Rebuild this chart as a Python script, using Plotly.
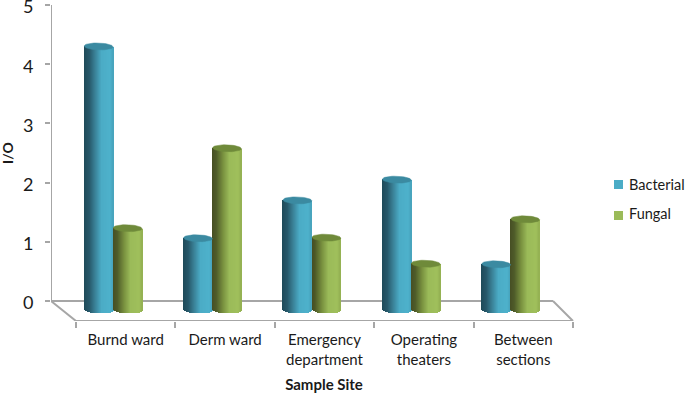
import numpy as np
import plotly.graph_objects as go

categories = ["Burnd ward", "Derm ward", "Emergency<br>department", "Operating<br>theaters", "Between<br>sections"]
bacterial = [4.30, 1.06, 1.70, 2.05, 0.62]
fungal = [1.23, 2.58, 1.07, 0.63, 1.38]
series_names = ["Bacterial", "Fungal"]
y_ticks = [0, 1, 2, 3, 4, 5]

GRAY = "#a6a6a6"
TEXT = "#1a1a1a"
FONT = "Lato, Open Sans, sans-serif"
N = 29
BAR_W = 0.29
ELL_TOP = 0.058
ELL_BOT = 0.06
TILT = 0.016
BASE = -0.15

ramps = {
    "Bacterial": dict(stops=[(0, "#1f4a59"), (.18, "#27586a"), (.38, "#3a8197"), (.6, "#4bacc6"), (.9, "#4eb2cc"), (1, "#47a3bc")],
                      cap="#3b8aa1", off=-0.272, swatch="#4bacc6"),
    "Fungal": dict(stops=[(0, "#474f24"), (.15, "#4f5c2a"), (.38, "#79913f"), (.6, "#9bbb59"), (.9, "#a0c05c"), (1, "#93b052")],
                   cap="#6f8a3a", off=0.02, swatch="#9bbb59"),
}


def hexrgb(c):
    return np.array([int(c[i:i + 2], 16) for i in (1, 3, 5)], float)


def ramp(stops, t):
    for (a, ca), (b, cb) in zip(stops, stops[1:]):
        if t <= b:
            m = hexrgb(ca) + (hexrgb(cb) - hexrgb(ca)) * (t - a) / (b - a)
            return "rgb(%d,%d,%d)" % tuple(m)
    return stops[-1][1]


fig = go.Figure()
xs = np.arange(len(categories))
for name, vals in zip(series_names, [bacterial, fungal]):
    cfg = ramps[name]
    vals = np.array(vals)
    for k in range(N):
        tm = (k + .5) / N
        u = 2 * tm - 1
        curve = np.sqrt(max(1 - u * u, 0))
        base = BASE - ELL_BOT * curve - TILT * u / 2
        top = vals - TILT * u / 2
        fig.add_trace(go.Bar(
            x=xs + cfg["off"] - BAR_W / 2 + BAR_W * tm,
            y=top - base, base=base,
            width=BAR_W / N * 1.12,
            marker=dict(color=ramp(cfg["stops"], tm), line_width=0),
            showlegend=False, hoverinfo="skip"))
    th = np.linspace(0, 2 * np.pi, 50)
    ex, ey = [], []
    for i, v in enumerate(vals):
        ex += list(i + cfg["off"] + BAR_W / 2 * np.cos(th)) + [None]
        ey += list(v + ELL_TOP * np.sin(th) - TILT / 2 * np.cos(th)) + [None]
    fig.add_trace(go.Scatter(x=ex, y=ey, mode="lines", fill="toself", fillcolor=cfg["cap"],
                             line=dict(color=cfg["cap"], width=0.5), showlegend=False, hoverinfo="skip"))
    fig.add_trace(go.Scatter(x=[None], y=[None], mode="markers", name=name, legendgroup=name,
                             marker=dict(symbol="square", size=9, color="rgba(0,0,0,0)")))

PX = 99.4
PY = 59.2
xL = -0.5 - 25 / PX
xBR = 4.5 - 20 / PX
xR = 4.5 + 24 / PX
yF = -20 / PY
line = dict(color=GRAY, width=2)
segs = [(xL, 5, xL, 0), (xL, 0, xBR, 0), (xL, 0, -0.5, yF), (-0.5, yF, 4.5, yF), (xBR, 0, 4.5, yF)]
shapes = [dict(type="line", xref="x", yref="y", x0=a, y0=b, x1=c, y1=d, line=line, layer="below") for a, b, c, d in segs]
# legend swatches, placed beside the native legend text
for name, cy in zip(series_names, (184.5, 215.5)):
    shapes.append(dict(type="rect", xref="paper", yref="paper",
                       x0=(614 - 51) / 546, x1=(623 - 51) / 546,
                       y0=(321 - cy - 4.5) / 316, y1=(321 - cy + 4.5) / 316,
                       fillcolor=ramps[name]["swatch"], line_width=0))

fig.update_layout(
    width=685, height=393, autosize=False,
    margin=dict(l=51, r=88, t=5, b=72, autoexpand=False),
    paper_bgcolor="white", plot_bgcolor="white",
    barmode="overlay", bargap=0,
    font=dict(family=FONT, color=TEXT),
    shapes=shapes,
    annotations=[dict(text="<b>I/O</b>", textangle=-90, xref="paper", yref="paper",
                      x=(7 - 51) / 546, y=(321 - 153) / 316, xanchor="center", yanchor="middle",
                      showarrow=False, font=dict(family=FONT, size=14, color=TEXT))],
    legend=dict(x=1.0, y=0.484, xref="paper", yref="paper", xanchor="left", yanchor="top",
                font=dict(family=FONT, size=14.5, color=TEXT), tracegroupgap=8, itemwidth=30, indentation=-8,
                bgcolor="rgba(0,0,0,0)"),
    xaxis=dict(range=[xL, xR], tickmode="array", tickvals=list(xs), ticktext=categories,
               showgrid=False, zeroline=False, showline=False, ticks="", tickangle=0,
               tickfont=dict(family=FONT, size=15, color=TEXT), ticklabelstandoff=8,
               minor=dict(ticks="outside", ticklen=6, tickwidth=2, tickcolor=GRAY, tick0=0.5, dtick=1, showgrid=False),
               title=dict(text="<b>Sample Site</b>", font=dict(family=FONT, size=15, color=TEXT), standoff=13)),
    yaxis=dict(range=[yF, 5], tickmode="array", tickvals=y_ticks, showgrid=False, zeroline=False, showline=False,
               ticks="outside", ticklen=5, tickwidth=2, tickcolor=GRAY, ticklabelstandoff=8,
               ticklabeloverflow="allow", ticklabelshift=2,
               tickfont=dict(family=FONT, size=18, color=TEXT)),
)
fig.write_html("out.html", post_script="document.body.style.margin='0';", config={"displayModeBar": False})
